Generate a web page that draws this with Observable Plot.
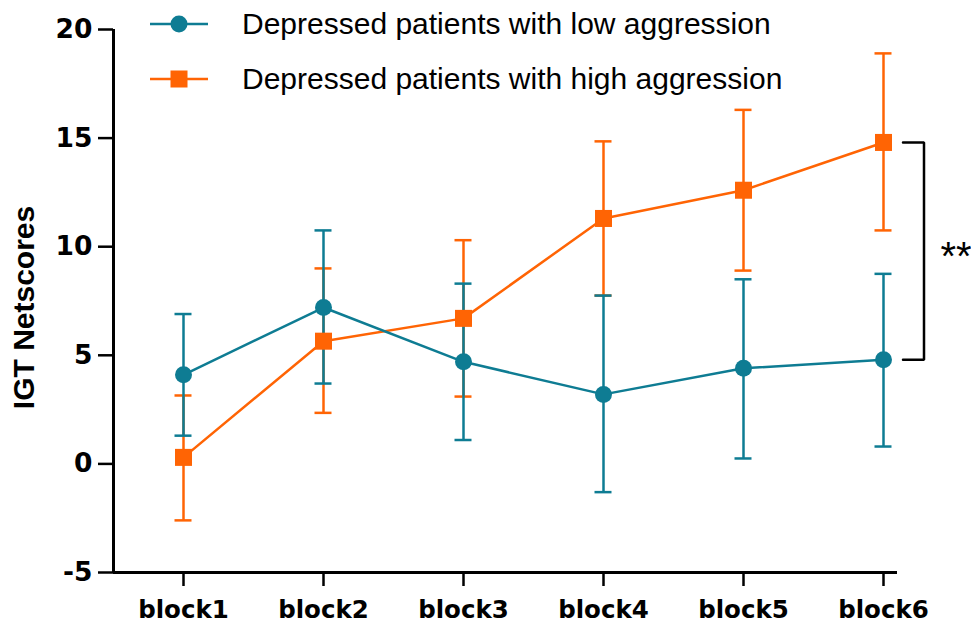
<!DOCTYPE html>
<html>
<head>
<meta charset="utf-8">
<script src="https://cdn.jsdelivr.net/npm/d3@7"></script>
<script src="https://cdn.jsdelivr.net/npm/@observablehq/plot@0.6"></script>
<style>
  body { margin: 0; background: #fff; }
  #chart { position: relative; width: 971px; height: 623px; font-family: "Liberation Sans", Arial, sans-serif; }
  #chart svg { display: block; }
  #chart g[aria-label="x-axis tick label"] { font-family: "DejaVu Sans", sans-serif; font-size: 24.5px !important; }
  #chart g[aria-label="y-axis tick label"] { font-family: "DejaVu Sans", sans-serif; font-size: 26.5px !important; }
  .legend-item { position: absolute; left: 150px; height: 40px; display: flex; align-items: center; white-space: nowrap; font-size: 30px; color: #000; }
  .legend-item svg { margin-right: 34px; }
</style>
</head>
<body>
<div id="chart"></div>
<script>
// Block labels and y-axis ticks
const blocks = ["block1", "block2", "block3", "block4", "block5", "block6"];
const yTicks = [-5, 0, 5, 10, 15, 20];

// Series names
const seriesNames = ["Depressed patients with low aggression", "Depressed patients with high aggression"];

// Low aggression group: mean and error bar limits
const lowMean  = [4.1, 7.2, 4.7, 3.2, 4.4, 4.8];
const lowUpper = [6.9, 10.75, 8.3, 7.75, 8.5, 8.75];
const lowLower = [1.3, 3.7, 1.1, -1.3, 0.25, 0.8];

// High aggression group: mean and error bar limits
const highMean  = [0.3, 5.65, 6.7, 11.3, 12.6, 14.8];
const highUpper = [3.15, 9.0, 10.3, 14.85, 16.3, 18.9];
const highLower = [-2.6, 2.35, 3.1, 7.75, 8.9, 10.75];

// Significance marker between the groups at the last block
const significance = "**";

const teal = "#0e7c93";
const orange = "#ff6404";

const rows = (mean, lo, hi) => blocks.map((b, i) => ({i, block: b, mean: mean[i], lo: lo[i], hi: hi[i]}));
const low = rows(lowMean, lowLower, lowUpper);
const high = rows(highMean, highLower, highUpper);

const step = 140;            // pixels per block
const cap = 8.5 / step;      // half width of error bar caps, in block units
const arm = 21 / step;       // bracket arm length, in block units
const last = blocks.length - 1;
const bracket = [
  {x: last, y: highMean[last]},
  {x: last + arm, y: highMean[last]},
  {x: last + arm, y: lowMean[last]},
  {x: last, y: lowMean[last]}
];
const starPos = [{x: last + arm, y: (highMean[last] + lowMean[last]) / 2, text: significance}];

function errorBars(data, color) {
  return [
    Plot.ruleX(data, {x: "i", y1: "lo", y2: "hi", stroke: color, strokeWidth: 2.5}),
    Plot.ruleY(data, {y: "hi", x1: d => d.i - cap, x2: d => d.i + cap, stroke: color, strokeWidth: 2.5}),
    Plot.ruleY(data, {y: "lo", x1: d => d.i - cap, x2: d => d.i + cap, stroke: color, strokeWidth: 2.5})
  ];
}

const chart = Plot.plot({
  width: 971,
  height: 623,
  marginLeft: 113,
  marginRight: 74,
  marginTop: 29,
  marginBottom: 51,
  style: {fontFamily: "'Liberation Sans', Arial, sans-serif", color: "#000", background: "#fff", overflow: "visible"},
  x: {domain: [-0.5, 5.1], axis: null},
  y: {domain: [-5, 20], axis: null},
  marks: [
    Plot.axisX({ticks: blocks.map((_, i) => i), tickFormat: i => blocks[i], tickSize: 14, tickPadding: 14,
      fontSize: 24.5, fontWeight: "bold", strokeWidth: 2.5, label: null}),
    Plot.axisY({ticks: yTicks, tickFormat: d => String(d), tickSize: 15, tickPadding: 6, fontSize: 26.5,
      fontWeight: "bold", strokeWidth: 2.5, label: null}),
    Plot.ruleY([-5], {strokeWidth: 3}),
    Plot.ruleX([-0.5], {strokeWidth: 3}),
    Plot.text(["IGT Netscores"], {frameAnchor: "left", textAnchor: "middle", dx: -89, dy: 6.5, rotate: -90,
      fontSize: 30, fontWeight: "bold"}),
    ...errorBars(high, orange),
    ...errorBars(low, teal),
    Plot.line(high, {x: "i", y: "mean", stroke: orange, strokeWidth: 2.5}),
    Plot.line(low, {x: "i", y: "mean", stroke: teal, strokeWidth: 2.5}),
    Plot.dot(high, {x: "i", y: "mean", symbol: "square", r: 9.6, fill: orange}),
    Plot.dot(low, {x: "i", y: "mean", symbol: "circle", r: 8.5, fill: teal}),
    Plot.line(bracket, {x: "x", y: "y", dx: 19.5, stroke: "#000", strokeWidth: 2.5, strokeLinejoin: "miter"}),
    Plot.text(starPos, {x: "x", y: "y", text: "text", dx: 51.5, dy: 6, fontSize: 40})
  ]
});

const root = document.getElementById("chart");
root.appendChild(chart);

// Legend drawn over the top of the plot area
const swatches = [
  `<svg width="58" height="20"><line x1="0" x2="58" y1="10" y2="10" stroke="${teal}" stroke-width="2.5"/><circle cx="29" cy="10" r="8.5" fill="${teal}"/></svg>`,
  `<svg width="58" height="20"><line x1="0" x2="58" y1="10" y2="10" stroke="${orange}" stroke-width="2.5"/><rect x="20.5" y="1.5" width="17" height="17" fill="${orange}"/></svg>`
];
const rowCenters = [24, 79];
seriesNames.forEach((name, k) => {
  const item = document.createElement("div");
  item.className = "legend-item";
  item.style.top = (rowCenters[k] - 20) + "px";
  item.innerHTML = swatches[k] + `<span>${name}</span>`;
  root.appendChild(item);
});
</script>
</body>
</html>
